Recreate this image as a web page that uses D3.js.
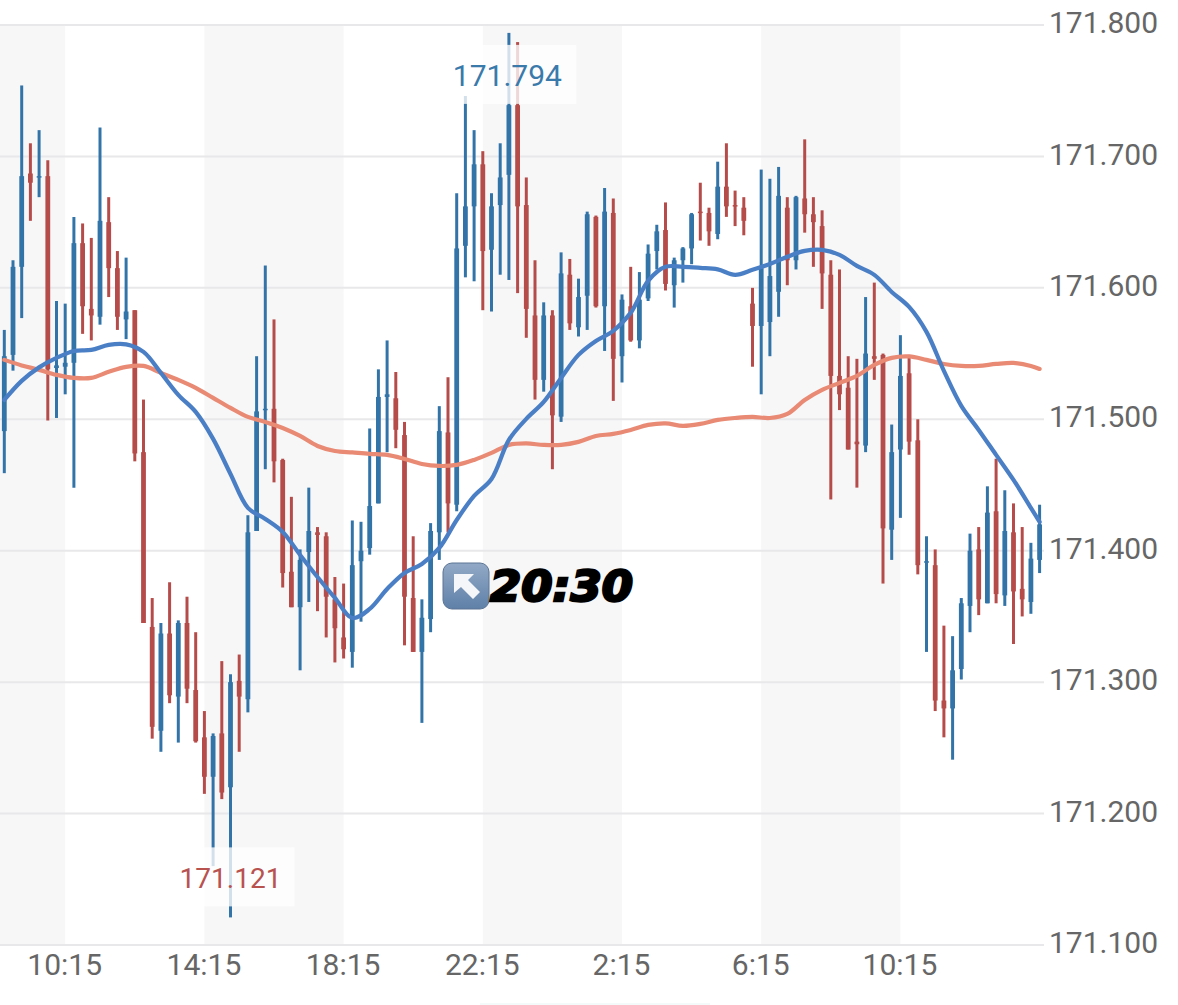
<!DOCTYPE html>
<html>
<head>
<meta charset="utf-8">
<script src="https://cdn.jsdelivr.net/npm/d3@7/dist/d3.min.js"></script>
<style>
html,body{margin:0;padding:0;background:#fff;}
svg{display:block;}
</style>
</head>
<body>
<svg id="chart" width="1178" height="1005"></svg>
<script>
const high=[171.568,171.621,171.754,171.710,171.720,171.697,171.590,171.588,171.654,171.649,
171.638,171.722,171.669,171.628,171.623,171.583,171.515,171.364,171.345,171.376,
171.347,171.365,171.338,171.278,171.261,171.316,171.306,171.321,171.427,171.548,
171.617,171.576,171.470,171.441,171.401,171.448,171.418,171.414,171.380,171.375,
171.423,171.422,171.493,171.538,171.560,171.536,171.498,171.411,171.363,171.421,
171.510,171.532,171.672,171.746,171.720,171.704,171.672,171.710,171.794,171.787,
171.684,171.621,171.589,171.583,171.627,171.622,171.607,171.658,171.655,171.676,
171.668,171.595,171.616,171.612,171.633,171.648,171.665,171.623,171.631,171.657,
171.680,171.661,171.696,171.710,171.674,171.669,171.600,171.690,171.683,171.692,
171.669,171.670,171.713,171.669,171.659,171.621,171.614,171.548,171.546,171.593,
171.604,171.550,171.496,171.564,171.549,171.500,171.411,171.401,171.343,171.335,
171.364,171.413,171.418,171.449,171.470,171.446,171.436,171.418,171.406,171.435];
const low=[171.459,171.537,171.577,171.651,171.669,171.499,171.501,171.519,171.448,171.565,
171.560,171.572,171.593,171.568,171.561,171.468,171.345,171.257,171.247,171.284,
171.254,171.284,171.254,171.215,171.160,171.211,171.121,171.247,171.277,171.415,
171.462,171.452,171.372,171.357,171.309,171.361,171.354,171.334,171.315,171.318,
171.311,171.346,171.397,171.436,171.475,171.478,171.328,171.323,171.269,171.338,
171.393,171.414,171.430,171.608,171.605,171.583,171.582,171.610,171.606,171.596,
171.562,171.515,171.521,171.462,171.498,171.568,171.563,171.568,171.585,171.552,
171.514,171.528,171.559,171.554,171.590,171.614,171.598,171.585,171.604,171.618,
171.636,171.632,171.637,171.654,171.647,171.640,171.540,171.519,171.548,171.578,
171.602,171.614,171.642,171.616,171.584,171.439,171.507,171.477,171.448,171.475,
171.530,171.375,171.393,171.425,171.473,171.382,171.323,171.278,171.258,171.241,
171.302,171.338,171.351,171.360,171.360,171.358,171.329,171.350,171.352,171.383];
const open=[171.491,171.549,171.616,171.687,171.684,171.685,171.539,171.540,171.543,171.634,
171.584,171.578,171.650,171.615,171.576,171.583,171.475,171.342,171.263,171.337,
171.289,171.345,171.294,171.258,171.228,171.261,171.220,171.301,171.287,171.415,
171.507,171.508,171.469,171.384,171.357,171.399,171.414,171.411,171.363,171.334,
171.323,171.392,171.402,171.436,171.517,171.516,171.488,171.364,171.323,171.348,
171.414,171.490,171.435,171.632,171.662,171.694,171.629,171.663,171.686,171.739,
171.663,171.579,171.530,171.579,171.502,171.610,171.570,171.594,171.654,171.586,
171.657,171.548,171.586,171.560,171.592,171.628,171.644,171.602,171.621,171.630,
171.658,171.657,171.641,171.677,171.663,171.661,171.588,171.571,171.574,171.597,
171.661,171.621,171.668,171.656,171.647,171.610,171.533,171.524,171.483,171.480,
171.548,171.549,171.416,171.477,171.535,171.484,171.391,171.389,171.286,171.280,
171.310,171.358,171.401,171.360,171.430,171.366,171.414,171.371,171.361,171.393];
const close=[171.548,171.616,171.685,171.680,171.685,171.538,171.541,171.543,171.634,171.586,
171.579,171.651,171.615,171.578,171.582,171.474,171.345,171.266,171.337,171.290,
171.345,171.295,171.255,171.228,171.259,171.216,171.300,171.289,171.414,171.506,
171.508,171.468,171.383,171.357,171.393,171.415,171.412,171.365,171.341,171.325,
171.389,171.400,171.434,171.517,171.519,171.492,171.365,171.323,171.349,171.415,
171.491,171.436,171.630,171.662,171.694,171.628,171.662,171.684,171.739,171.662,
171.584,171.530,171.579,171.503,171.611,171.573,171.593,171.656,171.586,171.658,
171.546,171.591,171.560,171.591,171.626,171.643,171.603,171.621,171.630,171.656,
171.657,171.643,171.677,171.662,171.662,171.651,171.571,171.615,171.609,171.670,
171.621,171.669,171.656,171.650,171.611,171.533,171.519,171.477,171.481,171.550,
171.546,171.417,171.475,171.533,171.483,171.389,171.392,171.286,171.280,171.309,
171.360,171.400,171.363,171.429,171.367,171.415,171.369,171.363,171.394,171.420];

// moving averages, read every second candle plus the last one
const maIndex=d3.range(0,120,2).concat([119]);
const maFast=[171.5147,171.5292,171.5395,171.5467,171.5520,171.5528,171.5566,171.5570,171.5513,171.5353,
171.5186,171.5056,171.4851,171.4584,171.4326,171.4242,171.4143,171.3968,171.3800,171.3641,
171.3488,171.3557,171.3709,171.3831,171.3899,171.4021,171.4234,171.4417,171.4546,171.4843,
171.5003,171.5132,171.5315,171.5490,171.5596,171.5673,171.5810,171.6053,171.6160,171.6160,
171.6152,171.6141,171.6099,171.6137,171.6182,171.6236,171.6281,171.6289,171.6251,171.6167,
171.6099,171.5969,171.5855,171.5665,171.5368,171.5102,171.4919,171.4729,171.4539,171.4326,171.4219];
const maSlow=[171.5452,171.5410,171.5376,171.5338,171.5315,171.5315,171.5361,171.5399,171.5406,171.5353,
171.5300,171.5239,171.5163,171.5087,171.5018,171.4980,171.4934,171.4873,171.4797,171.4759,
171.4748,171.4737,171.4729,171.4698,171.4660,171.4645,171.4653,171.4691,171.4744,171.4805,
171.4816,171.4805,171.4805,171.4828,171.4873,171.4889,171.4919,171.4957,171.4969,171.4950,
171.4965,171.4995,171.5010,171.5018,171.5010,171.5041,171.5147,171.5224,171.5277,171.5330,
171.5414,171.5467,171.5478,171.5452,171.5421,171.5406,171.5406,171.5421,171.5429,171.5406,171.5383];

const yTicks=[171.1,171.2,171.3,171.4,171.5,171.6,171.7,171.8];
const xTickIndex=[7,23,39,55,71,87,103];
const xTickLabels=["10:15","14:15","18:15","22:15","2:15","6:15","10:15"];
const maxIndex=58, maxLabel="171.794";
const minIndex=26, minLabel="171.121";

const BLUE="#3274a8", RED="#b54c4a", MA_FAST="#4a7fc6", MA_SLOW="#e98a74", GREY="#666";
const FONT="Roboto, sans-serif";

const svg=d3.select("#chart");
const x=d3.scaleLinear().domain([0,119]).range([4.3,1039.6]);
const y=d3.scaleLinear().domain([171.1,171.8]).range([945,25]);
const n=high.length;

// alternating session bands, starting at each second tick
const bandEdges=[[null,7],[23,39],[55,71],[87,103]];
svg.append("g").selectAll("rect").data(bandEdges).join("rect")
  .attr("x",d=>d[0]===null?0:x(d[0]))
  .attr("width",d=>x(d[1])-(d[0]===null?0:x(d[0])))
  .attr("y",y(171.8)).attr("height",y(171.1)-y(171.8))
  .attr("fill","#f7f7f8");

// grid
svg.append("g").selectAll("line").data(yTicks).join("line")
  .attr("x1",0).attr("x2",1044)
  .attr("y1",d=>y(d)).attr("y2",d=>y(d))
  .attr("stroke","#e8e8ea").attr("stroke-width",2);

// candles
const idx=d3.range(n);
const col=i=>close[i]>=open[i]?BLUE:RED;
svg.append("g").selectAll("line").data(idx).join("line")
  .attr("x1",x).attr("x2",x)
  .attr("y1",i=>y(high[i])).attr("y2",i=>y(low[i]))
  .attr("stroke",col).attr("stroke-width",3);
svg.append("g").selectAll("rect").data(idx).join("rect")
  .attr("x",i=>x(i)-2.4).attr("width",4.8)
  .attr("y",i=>y(Math.max(open[i],close[i])))
  .attr("height",i=>Math.max(1.5,Math.abs(y(open[i])-y(close[i]))))
  .attr("fill",col);

// moving averages
const line=d3.line().x((d,i)=>x(maIndex[i])).y(d=>y(d)).curve(d3.curveCatmullRom.alpha(0.5));
svg.append("path").attr("d",line(maSlow)).attr("fill","none")
  .attr("stroke",MA_SLOW).attr("stroke-width",4.2).attr("stroke-linecap","round");
svg.append("path").attr("d",line(maFast)).attr("fill","none")
  .attr("stroke",MA_FAST).attr("stroke-width",4.2).attr("stroke-linecap","round");

// extreme labels
function extreme(i,val,label,color,dy,size,boxShift){
  const cx=x(i)+(i===minIndex?0:-1.5);
  const top=y(val)+dy;
  svg.append("rect").attr("x",cx-61+boxShift).attr("y",top).attr("width",125).attr("height",59)
    .attr("fill","#fff").attr("fill-opacity",0.78);
  svg.append("text").attr("x",cx).attr("y",top+41).attr("text-anchor","middle")
    .attr("font-family",FONT).attr("font-size",size).attr("fill",color).text(label);
}
extreme(maxIndex,high[maxIndex],maxLabel,"#3a7aab",12,30,5);
extreme(minIndex,low[minIndex],minLabel,"#b8524f",-70,28,0);

// axes
const yAxis=d3.axisRight(y).tickValues(yTicks).tickFormat(d3.format(".3f")).tickSize(0).tickPadding(0);
const gy=svg.append("g").attr("transform","translate(1049,-2)").call(yAxis);
const xAxis=d3.axisBottom(x).tickValues(xTickIndex).tickFormat((d,i)=>xTickLabels[i]).tickSize(0).tickPadding(0);
const gx=svg.append("g").attr("transform","translate(-1,954)").call(xAxis);
[gy,gx].forEach(g=>{
  g.select(".domain").remove();
  g.selectAll("text").attr("font-family",FONT).attr("font-size",30).attr("fill",GREY);
});

// pasted annotation: arrow button and time
const note=svg.append("g");
const defs=svg.append("defs");
const grad=defs.append("linearGradient").attr("id","btn").attr("x1",0).attr("x2",0).attr("y1",0).attr("y2",1);
grad.append("stop").attr("offset",0).attr("stop-color","#92a9c6");
grad.append("stop").attr("offset",1).attr("stop-color","#5f80a8");
note.append("rect").attr("x",443).attr("y",563).attr("width",46).attr("height",46).attr("rx",9)
  .attr("fill","url(#btn)").attr("stroke","#5c7594").attr("stroke-width",1);
note.append("path").attr("d","M454 574 L474 574 L468 580 L480 592 L473 599 L461 587 L454 593 Z").attr("fill","#f4f6f9");
note.append("text").attr("x",490).attr("y",601).attr("font-family","'DejaVu Sans', sans-serif")
  .attr("font-weight","bold").attr("font-style","italic").attr("font-size",42)
  .attr("fill","#000").attr("stroke","#000").attr("stroke-width",2.5).attr("textLength",143)
  .attr("lengthAdjust","spacingAndGlyphs").text("20:30");
svg.append("rect").attr("x",480).attr("y",1003).attr("width",230).attr("height",2).attr("fill","#f4f9f9");
</script>
</body>
</html>
